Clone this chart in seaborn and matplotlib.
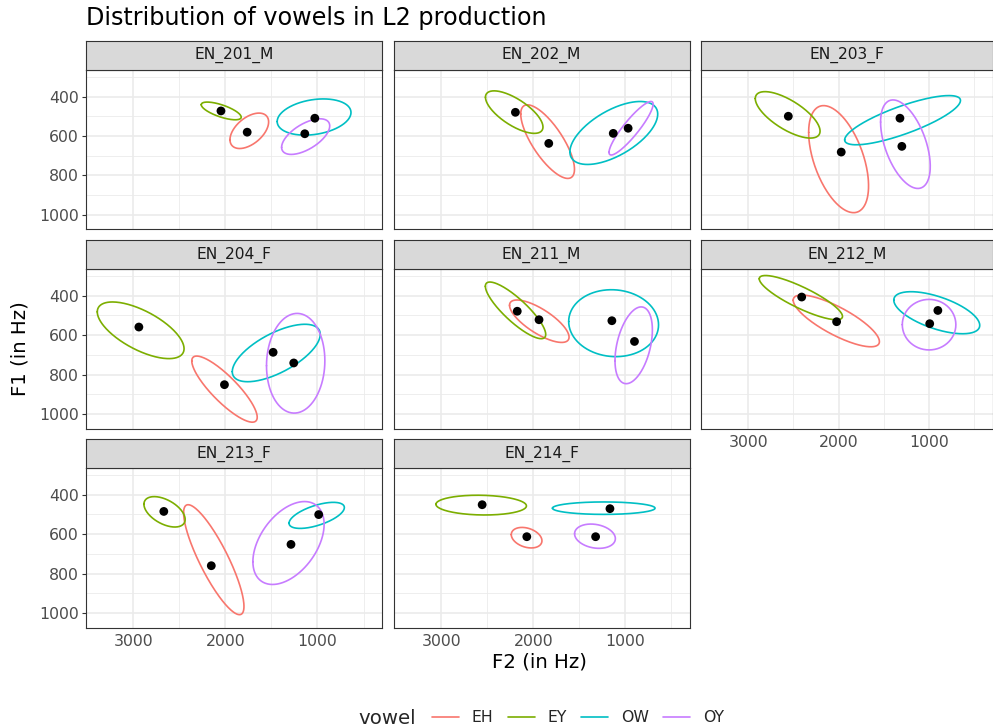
import numpy as np
import pandas as pd
import matplotlib
matplotlib.use("Agg")
import matplotlib.pyplot as plt
from matplotlib.lines import Line2D
from matplotlib.ticker import FixedLocator
import seaborn as sns

# ---------------- data ----------------
speakers = ["EN_201_M", "EN_202_M", "EN_203_F", "EN_204_F",
            "EN_211_M", "EN_212_M", "EN_213_F", "EN_214_F"]
vowels = ["EH", "EY", "OW", "OY"]

# ellipse extents (Hz) per speaker, per vowel (EH, EY, OW, OY)
ell_f2_min = [[1531, 1829, 636, 867], [1551, 1894, 645, 695], [1669, 2205, 653, 987],
              [1655, 2450, 970, 920], [1610, 1864, 636, 703], [1549, 1957, 440, 704],
              [1799, 2438, 708, 928], [1905, 2074, 674, 1106]]
ell_f2_max = [[1951, 2263, 1438, 1390], [2136, 2520, 1601, 1175], [2331, 2921, 1933, 1536],
              [2366, 3393, 1926, 1554], [2258, 2521, 1614, 1110], [2502, 2877, 1390, 1296],
              [2455, 2886, 1309, 1702], [2239, 3059, 1791, 1550]]
ell_f1_min = [[484, 428, 412, 513], [442, 371, 425, 425], [446, 375, 395, 417],
              [706, 432, 545, 490], [422, 331, 370, 457], [397, 298, 380, 419],
              [451, 410, 439, 435], [566, 403, 437, 549]]
ell_f1_max = [[664, 518, 596, 694], [816, 587, 745, 697], [990, 611, 645, 867],
              [1041, 719, 836, 995], [637, 618, 709, 846], [659, 522, 593, 675],
              [1008, 564, 571, 855], [670, 503, 500, 672]]
ell_corr = [[0.5, -0.7, 0.25, 0.6], [-0.75, -0.7, 0.6, 0.9], [-0.5, -0.7, 0.8, -0.5],
            [-0.85, -0.65, 0.65, 0.05], [-0.75, -0.85, -0.05, 0.4], [-0.8, -0.85, -0.6, 0.0],
            [-0.85, -0.5, 0.6, 0.45], [-0.3, -0.08, 0.0, -0.2]]

# mean points (Hz)
mean_f2 = [[1764, 2049, 1029, 1138], [1831, 2194, 1129, 967], [1971, 2556, 1322, 1301],
           [2011, 2941, 1482, 1258], [1937, 2174, 1144, 898], [2022, 2408, 903, 993],
           [2154, 2670, 987, 1288], [2070, 2556, 1165, 1321]]
mean_f1 = [[581, 473, 510, 589], [638, 480, 587, 561], [682, 500, 510, 653],
           [851, 559, 687, 741], [522, 479, 527, 632], [532, 407, 475, 542],
           [760, 485, 501, 652], [613, 451, 471, 613]]

colors = ["#F8766D", "#7CAE00", "#00BFC4", "#C77CFF"]
palette = dict(zip(vowels, colors))

x_major = [1000, 2000, 3000]
x_minor = [500, 1500, 2500]
y_major = [400, 600, 800, 1000]
y_minor = [300, 500, 700, 900]

# ---------------- build long tables ----------------
t = np.linspace(0, 2 * np.pi, 241)
ell_rows = []
pt_rows = []
for i, spk in enumerate(speakers):
    for j, v in enumerate(vowels):
        cx = (ell_f2_min[i][j] + ell_f2_max[i][j]) / 2
        sx = (ell_f2_max[i][j] - ell_f2_min[i][j]) / 2
        cy = (ell_f1_min[i][j] + ell_f1_max[i][j]) / 2
        sy = (ell_f1_max[i][j] - ell_f1_min[i][j]) / 2
        r = ell_corr[i][j]
        xs = cx + sx * np.cos(t)
        ys = cy + sy * (r * np.cos(t) + np.sqrt(1 - r * r) * np.sin(t))
        for k in range(len(t)):
            ell_rows.append((spk, v, k, xs[k], ys[k]))
        pt_rows.append((spk, v, mean_f2[i][j], mean_f1[i][j]))
ell_df = pd.DataFrame(ell_rows, columns=["speaker", "vowel", "order", "F2", "F1"])
pt_df = pd.DataFrame(pt_rows, columns=["speaker", "vowel", "F2", "F1"])

# ---------------- figure ----------------
sns.set_theme(style="white")
plt.rcParams["font.family"] = ["DejaVu Sans"]

W, H = 993, 728
fig = plt.figure(figsize=(W / 100, H / 100), dpi=100)
fig.patch.set_facecolor("white")

col_x = [(85.5, 382.0), (393.5, 689.5), (701.0, 992.5)]
row_y = [(40.5, 70.0, 229.0), (240.0, 269.0, 428.5), (439.0, 468.0, 627.5)]
bottom_idx = {5, 6, 7}
border = "#333333"

for i, spk in enumerate(speakers):
    rr, cc = divmod(i, 3)
    x0, x1 = col_x[cc]
    s0, p0, p1 = row_y[rr]
    ax = fig.add_axes([x0 / W, 1 - p1 / H, (x1 - x0) / W, (p1 - p0) / H])
    sax = fig.add_axes([x0 / W, 1 - p0 / H, (x1 - x0) / W, (p0 - s0) / H])

    d = ell_df[ell_df.speaker == spk]
    sns.lineplot(data=d, x="F2", y="F1", hue="vowel", hue_order=vowels, palette=palette,
                 sort=False, estimator=None, units="vowel", lw=1.2, legend=False, ax=ax)
    p = pt_df[pt_df.speaker == spk]
    sns.scatterplot(data=p, x="F2", y="F1", color="black", s=40, edgecolor="none",
                    legend=False, ax=ax, zorder=5)

    ax.set_xlim(3521, 299)
    ax.set_ylim(1073, 265)
    ax.xaxis.set_major_locator(FixedLocator(x_major))
    ax.xaxis.set_minor_locator(FixedLocator(x_minor))
    ax.yaxis.set_major_locator(FixedLocator(y_major))
    ax.yaxis.set_minor_locator(FixedLocator(y_minor))
    ax.set_axisbelow(True)
    ax.grid(which="major", color="#EBEBEB", lw=1.2)
    ax.grid(which="minor", color="#EBEBEB", lw=0.6)
    ax.set_facecolor("white")
    for sp in ax.spines.values():
        sp.set_visible(True)
        sp.set_color(border)
        sp.set_linewidth(0.8)
    ax.set_xlabel("")
    ax.set_ylabel("")
    ax.tick_params(which="minor", length=0)
    ax.tick_params(axis="both", which="major", colors=border, labelcolor="#4D4D4D",
                   labelsize=11.3, length=2.7, width=0.8, pad=2.2)
    if cc != 0:
        ax.tick_params(axis="y", which="major", length=0, labelleft=False)
    if i not in bottom_idx:
        ax.tick_params(axis="x", which="major", length=0, labelbottom=False)
    ax.tick_params(axis="y", which="major", left=(cc == 0))

    sax.set_facecolor("#D9D9D9")
    sax.set_xticks([])
    sax.set_yticks([])
    for sp in sax.spines.values():
        sp.set_visible(True)
        sp.set_color(border)
        sp.set_linewidth(0.8)
    sax.text(0.5, 0.5, spk, ha="center", va="center", fontsize=11.2, color="#1A1A1A",
             transform=sax.transAxes)

# titles
fig.text(85.5 / W, 1 - 18 / H, "Distribution of vowels in L2 production",
         ha="left", va="center", fontsize=17.2, color="black")
fig.text((85.5 + 992.5) / 2 / W, 1 - 662 / H, "F2 (in Hz)", ha="center", va="center",
         fontsize=14.2, color="black")
fig.text(20 / W, 1 - 348.5 / H, "F1 (in Hz)", ha="center", va="center", rotation=90,
         fontsize=14.2, color="black")

# legend
handles = [Line2D([0], [0], color=palette[v], lw=1.2) for v in vowels]
fig.text(358 / W, 1 - 718 / H, "vowel", ha="left", va="center", fontsize=14.2)
fig.legend(handles, vowels, loc="center", bbox_to_anchor=(578 / W, 1 - 718 / H),
           ncol=4, frameon=False, fontsize=11.3, handlelength=1.72, handletextpad=0.83,
           columnspacing=0.9, borderpad=0, borderaxespad=0)

fig.savefig("out.png", dpi=100, facecolor="white")
